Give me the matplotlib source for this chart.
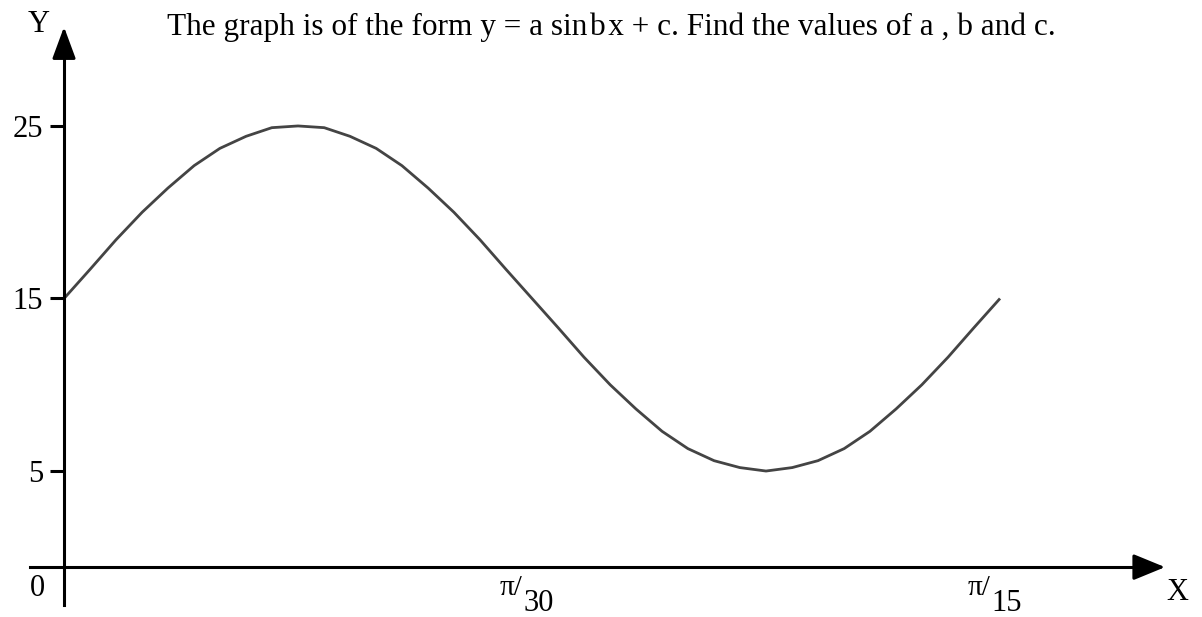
import matplotlib
matplotlib.use("Agg")
import matplotlib.pyplot as plt

# curve, x in units of pi/30
x_vals = [0.0, 0.056, 0.111, 0.167, 0.222, 0.278, 0.333, 0.389, 0.444, 0.5,
          0.556, 0.611, 0.667, 0.722, 0.778, 0.833, 0.889, 0.944, 1.0,
          1.056, 1.111, 1.167, 1.222, 1.278, 1.333, 1.389, 1.444, 1.5,
          1.556, 1.611, 1.667, 1.722, 1.778, 1.833, 1.889, 1.944, 2.0]
y_vals = [15.0, 16.7, 18.4, 20.0, 21.4, 22.7, 23.7, 24.4, 24.9, 25.0,
          24.9, 24.4, 23.7, 22.7, 21.4, 20.0, 18.4, 16.7, 15.0,
          13.3, 11.6, 10.0, 8.6, 7.3, 6.3, 5.6, 5.2, 5.0,
          5.2, 5.6, 6.3, 7.3, 8.6, 10.0, 11.6, 13.3, 15.0]

y_ticks = [5, 15, 25]
x_ticks = [1, 2]
x_tick_top = ["\u03c0/", "\u03c0/"]
x_tick_bottom = ["30", "15"]
title = "The graph is of the form y = a sin\u200ab\u200ax + c. Find the values of a , b and c."

SERIF = "Liberation Serif"
W, H = 1202, 617
AXIS_Y = -0.57

fig = plt.figure(figsize=(W / 100, H / 100), dpi=100)
ax = fig.add_axes([0, 0, 1, 1])
ax.set_xlim(-0.1368, 2.4316)
ax.set_ylim(-3.46, 32.30)

def px(x, y):
    return dict(x=x / 100, y=(H - y) / 100, transform=fig.dpi_scale_trans)

# axes drawn as spines
for s in ["top", "right"]:
    ax.spines[s].set_visible(False)
ax.spines["left"].set_position(("data", 0))
ax.spines["bottom"].set_position(("data", AXIS_Y))
ax.spines["left"].set_bounds(-2.77, 29.5)
ax.spines["bottom"].set_bounds(-0.0727, 2.3)
for s in ["left", "bottom"]:
    ax.spines[s].set_linewidth(2.2)

ax.set_yticks(y_ticks)
ax.set_yticklabels([str(t) for t in y_ticks], fontfamily=SERIF, fontsize=22)
ax.tick_params(axis="y", direction="out", length=10, width=2.2, pad=5)
ax.set_xticks([])

# arrow heads
ax.annotate("", xy=(0, 30.74), xytext=(0, 29.0),
            arrowprops=dict(arrowstyle="-|>,head_length=1.95,head_width=0.72",
                            mutation_scale=10, color="black", lw=2.2,
                            shrinkA=0, shrinkB=0))
ax.annotate("", xy=(2.3526, AXIS_Y), xytext=(2.29, AXIS_Y),
            arrowprops=dict(arrowstyle="-|>,head_length=1.95,head_width=0.8",
                            mutation_scale=10, color="black", lw=2.2,
                            shrinkA=0, shrinkB=0))

ax.plot(x_vals, y_vals, color="#444444", lw=2.0, solid_capstyle="butt")

# x tick labels like  pi/30
for xt, top, bot in zip(x_ticks, x_tick_top, x_tick_bottom):
    ax.annotate(top, xy=(xt, AXIS_Y), xycoords="data", xytext=(-10, -28),
                textcoords="offset pixels", ha="right", va="baseline",
                fontfamily=SERIF, fontsize=21)
    ax.annotate(bot, xy=(xt, AXIS_Y), xycoords="data", xytext=(-9, -44),
                textcoords="offset pixels", ha="left", va="baseline",
                fontfamily=SERIF, fontsize=22)

fig.text(s="Y", ha="center", va="center", fontfamily=SERIF, fontsize=22, **px(39, 24))
fig.text(s="X", ha="center", va="center", fontfamily=SERIF, fontsize=22, **px(1177, 593))
fig.text(s="0", ha="center", va="center", fontfamily=SERIF, fontsize=22, **px(37, 588))
fig.text(s=title, ha="left", va="baseline", fontfamily=SERIF, fontsize=22.5, **px(167, 35))

fig.savefig("out.png", dpi=100)
